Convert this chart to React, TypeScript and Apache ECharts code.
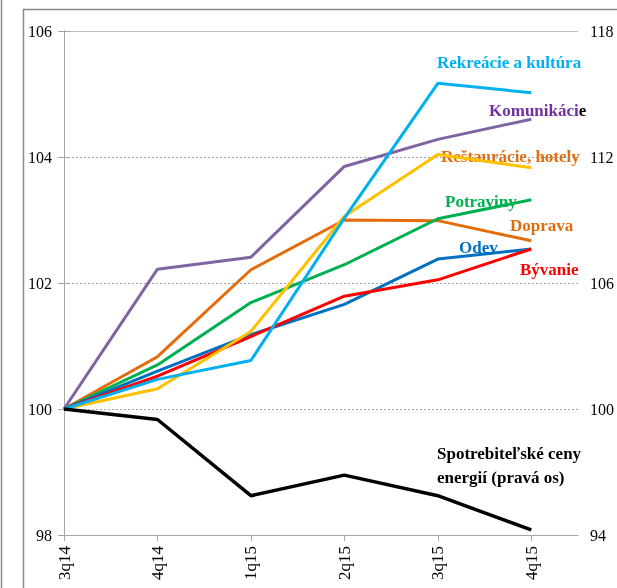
import React, { useEffect, useRef } from "react";
import * as echarts from "echarts";

const categories = ["3q14", "4q14", "1q15", "2q15", "3q15", "4q15"];

const rekreacie = [100, 100.47, 100.77, 103.03, 105.17, 105.02];
const komunikacie = [100, 102.22, 102.41, 103.85, 104.28, 104.6];
const restauracie = [100, 100.32, 101.23, 103.06, 104.04, 103.83];
const potraviny = [100, 100.7, 101.69, 102.29, 103.02, 103.32];
const doprava = [100, 100.83, 102.21, 103.0, 102.99, 102.67];
const odev = [100, 100.6, 101.18, 101.66, 102.38, 102.54];
const byvanie = [100, 100.52, 101.15, 101.79, 102.05, 102.54];
const energie = [100, 99.5, 95.87, 96.85, 95.87, 94.24];

const leftTicks = [98, 100, 102, 104, 106];
const rightTicks = [94, 100, 106, 112, 118];

const FONT = "Liberation Serif";

function pts(vals: number[]) {
  return vals.map((v, i) => [i, v]);
}

function buildOption() {
  const line = (name: string, vals: number[], color: string, width = 3, yAxisIndex = 0) => ({
    name,
    type: "line",
    data: pts(vals),
    yAxisIndex,
    symbol: "none",
    lineStyle: { color, width },
    itemStyle: { color },
  });
  const labelText = (text: string, x: number, y: number, color: string) => ({
    type: "text",
    x,
    y,
    style: {
      text,
      fill: color,
      fontFamily: FONT,
      fontSize: 17,
      fontWeight: "bold",
      verticalAlign: "middle",
    },
  });
  const rich = (size: number) => ({
    s: { fontFamily: FONT, fontSize: size, color: "#000", fontWeight: "normal" },
  });
  return {
    animation: false,
    textStyle: { fontFamily: FONT },
    grid: { left: 64, top: 31, right: 32, bottom: 53, containLabel: false },
    xAxis: [
      {
        type: "value",
        min: 0,
        max: 5.5,
        interval: 1,
        axisLine: { show: true, lineStyle: { color: "#a6a6a6", width: 1 } },
        axisTick: {
          show: true,
          length: 6,
          customValues: categories.map((_, i) => i),
          lineStyle: { color: "#a6a6a6" },
        },
        axisLabel: {
          customValues: categories.map((_, i) => i),
          formatter: (v: number) => "{s|" + (categories[Math.round(v)] ?? "") + "}",
          rich: rich(17),
          rotate: 90,
          margin: 11,
          color: "#000",
          fontFamily: FONT,
          fontSize: 17,
        },
        splitLine: { show: false },
      },
      {
        type: "value",
        position: "top",
        min: 0,
        max: 5.5,
        axisLine: { show: true, lineStyle: { color: "#bfbfbf", width: 1 } },
        axisTick: { show: false },
        axisLabel: { show: false },
        splitLine: { show: false },
      },
    ],
    yAxis: [
      {
        type: "value",
        min: leftTicks[0],
        max: leftTicks[leftTicks.length - 1],
        interval: 2,
        axisLine: { show: true, lineStyle: { color: "#a6a6a6" } },
        axisTick: { show: true, length: 6, lineStyle: { color: "#a6a6a6" } },
        axisLabel: {
          margin: 12,
          color: "#000",
          fontSize: 16,
          fontFamily: FONT,
          formatter: (v: number) => "{s|" + v + "}",
          rich: rich(16),
        },
        splitLine: { show: true, lineStyle: { color: "#8c8c8c", type: [2, 2], width: 0.8 } },
      },
      {
        type: "value",
        position: "right",
        min: rightTicks[0],
        max: rightTicks[rightTicks.length - 1],
        interval: 6,
        axisLine: { show: true, lineStyle: { color: "#a6a6a6" } },
        axisTick: { show: true, length: 6, lineStyle: { color: "#a6a6a6" } },
        axisLabel: {
          margin: 12,
          color: "#000",
          fontSize: 16,
          fontFamily: FONT,
          formatter: (v: number) => "{s|" + v + "}",
          rich: rich(16),
        },
        splitLine: { show: false },
      },
    ],
    series: [
      line("Komunikácie", komunikacie, "#8064A2"),
      line("Doprava", doprava, "#E46C0A"),
      line("Potraviny", potraviny, "#00B050"),
      line("Odev", odev, "#0070C0"),
      line("Bývanie", byvanie, "#FF0000"),
      line("Reštaurácie, hotely", restauracie, "#FFC000"),
      line("Rekreácie a kultúra", rekreacie, "#00B0F0"),
      line("Spotrebiteľské ceny energií (pravá os)", energie, "#000000", 3.5, 1),
    ],
    graphic: [
      {
        type: "line",
        shape: { x1: 1.5, y1: 0, x2: 1.5, y2: 588 },
        style: { stroke: "#8a8a8a", lineWidth: 1.5 },
      },
      {
        type: "rect",
        shape: { x: 23.5, y: 9.5, width: 700, height: 700 },
        style: { stroke: "#8a8a8a", lineWidth: 1.5, fill: "none" },
        silent: true,
      },
      labelText("Rekreácie a kultúra", 437, 62, "#00B0F0"),
      {
        type: "text",
        x: 489,
        y: 110,
        style: {
          text: "{p|Komunikáci}{k|e}",
          fontFamily: FONT,
          fontSize: 17,
          fontWeight: "bold",
          verticalAlign: "middle",
          rich: {
            p: { fill: "#7030A0", fontFamily: FONT, fontSize: 17, fontWeight: "bold" },
            k: { fill: "#000000", fontFamily: FONT, fontSize: 17, fontWeight: "bold" },
          },
        },
      },
      labelText("Reštaurácie, hotely", 441, 156, "#E46C0A"),
      labelText("Potraviny", 445, 201, "#00B050"),
      labelText("Doprava", 510, 225, "#E46C0A"),
      labelText("Odev", 459, 247, "#0070C0"),
      labelText("Bývanie", 520, 269, "#FF0000"),
      labelText("Spotrebiteľské ceny", 437, 453, "#000000"),
      labelText("energií (pravá os)", 437, 477, "#000000"),
    ],
  };
}

export default function App() {
  const ref = useRef<HTMLDivElement>(null);
  useEffect(() => {
    if (!ref.current) return;
    const chart = echarts.init(ref.current, undefined, { renderer: "svg" });
    chart.setOption(buildOption());
    return () => {
      chart.dispose();
    };
  }, []);
  return (
    <div ref={ref} style={{ position: "fixed", left: 0, top: 0, width: 617, height: 588 }} />
  );
}
